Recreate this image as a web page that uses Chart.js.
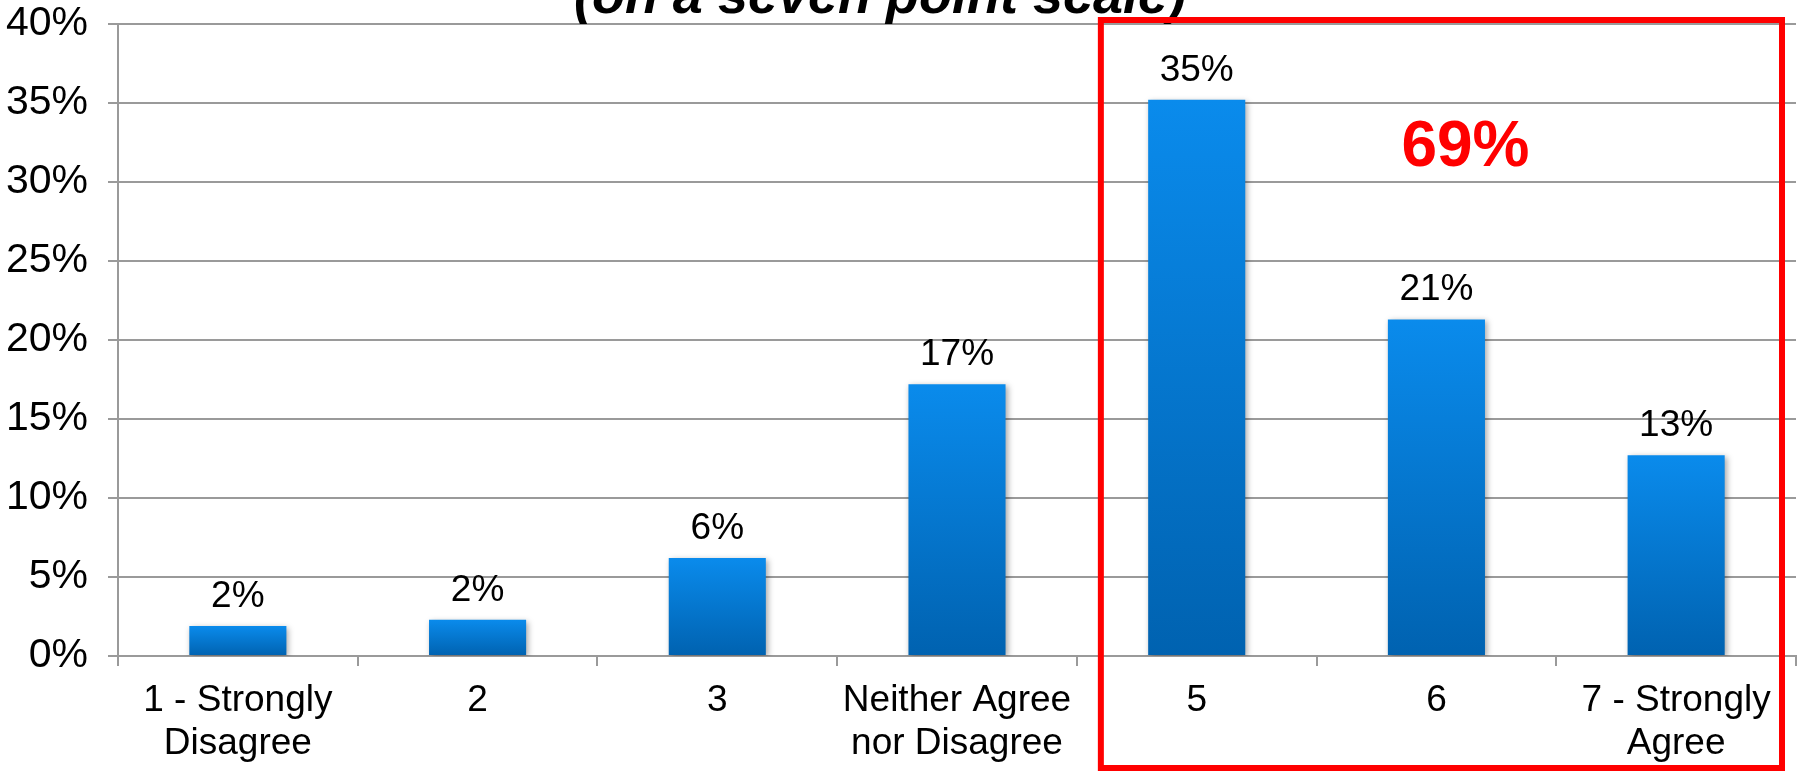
<!DOCTYPE html>
<html>
<head>
<meta charset="utf-8">
<script src="https://cdn.jsdelivr.net/npm/chart.js@4"></script>
<style>
    body { margin: 0; background: #fff; }
    #wrap { width: 1800px; height: 771px; position: relative; }
</style>
</head>
<body>
<div id="wrap"><canvas id="agreeChart"></canvas></div>
<script>
// Survey responses on a seven point scale
const categories = [
    ['1 - Strongly', 'Disagree'],
    ['2'],
    ['3'],
    ['Neither Agree', 'nor Disagree'],
    ['5'],
    ['6'],
    ['7 - Strongly', 'Agree']
];
const shares = [1.9, 2.3, 6.2, 17.2, 35.2, 21.3, 12.7];
const yTicks = [0, 5, 10, 15, 20, 25, 30, 35, 40];
const agreeGroup = [4, 5, 6]; // indexes boxed as "agree"

const FONT = '"Liberation Sans", Arial, sans-serif';
const GRID = '#9a9a9a';

function barGradient(context) {
    const chart = context.chart;
    const y = chart.scales.y;
    if (!chart.chartArea || !y || context.type !== 'data') return '#0078d4';
    const top = y.getPixelForValue(context.parsed.y);
    const bottom = y.getPixelForValue(0);
    const g = chart.ctx.createLinearGradient(0, top, 0, bottom);
    g.addColorStop(0, '#0a8bec');
    g.addColorStop(1, '#0062b0');
    return g;
}

// soft drop shadow behind the bars
const barShadow = {
    id: 'barShadow',
    beforeDatasetsDraw(chart) {
        const ctx = chart.ctx;
        ctx.save();
        ctx.shadowColor = 'rgba(0,0,0,0.35)';
        ctx.shadowBlur = 6;
        ctx.shadowOffsetX = 2;
        ctx.shadowOffsetY = 2;
    },
    afterDatasetsDraw(chart) {
        chart.ctx.restore();
    }
};

// value labels, subtitle, and the red "agree" box with its total
const overlays = {
    id: 'overlays',
    afterDraw(chart) {
        const ctx = chart.ctx;
        const x = chart.scales.x;
        const y = chart.scales.y;
        const meta = chart.getDatasetMeta(0);

        ctx.save();
        ctx.fillStyle = '#000';
        ctx.font = '37px ' + FONT;
        ctx.textAlign = 'center';
        ctx.textBaseline = 'alphabetic';
        meta.data.forEach((bar, i) => {
            ctx.fillText(Math.round(shares[i]) + '%', bar.x, bar.y - 19);
        });

        ctx.font = 'italic bold 54px ' + FONT;
        ctx.fillText('(on a seven point scale)', 880, 13);

        const step = x.getPixelForValue(1) - x.getPixelForValue(0);
        const left = x.getPixelForValue(agreeGroup[0]) - step / 2 + 24;
        const right = x.getPixelForValue(agreeGroup[agreeGroup.length - 1]) + step / 2 - 14;
        const top = y.getPixelForValue(40) - 4;
        const bottom = chart.height - 3;
        ctx.strokeStyle = '#ff0000';
        ctx.lineWidth = 6;
        ctx.strokeRect(left, top, right - left, bottom - top);

        const total = agreeGroup.reduce((s, i) => s + shares[i], 0);
        ctx.fillStyle = '#ff0000';
        ctx.font = 'bold 64px ' + FONT;
        ctx.textBaseline = 'middle';
        ctx.fillText(Math.round(total) + '%', x.getPixelForValue(5) + 29, y.getPixelForValue(32.1));
        ctx.restore();
    }
};

new Chart(document.getElementById('agreeChart').getContext('2d'), {
    type: 'bar',
    data: {
        labels: categories,
        datasets: [{
            data: shares,
            backgroundColor: barGradient,
            borderWidth: 0,
            categoryPercentage: 1,
            barPercentage: 0.405
        }]
    },
    options: {
        responsive: true,
        maintainAspectRatio: false,
        animation: false,
        layout: {
            padding: { top: 24, right: 4, left: 0, bottom: 0 }
        },
        plugins: {
            legend: { display: false },
            tooltip: { enabled: false }
        },
        scales: {
            x: {
                offset: true,
                afterFit(scale) {
                    scale.height = 115;
                    scale.paddingLeft = 0;
                    scale.paddingRight = 0;
                },
                grid: {
                    offset: true,
                    drawOnChartArea: false,
                    drawTicks: true,
                    tickLength: 10,
                    color: GRID,
                    lineWidth: 2
                },
                border: { color: GRID, width: 2 },
                ticks: {
                    color: '#000',
                    padding: 13,
                    maxRotation: 0,
                    autoSkip: false,
                    font: { family: FONT, size: 37, lineHeight: 1.17 }
                }
            },
            y: {
                min: 0,
                max: 40,
                afterFit(scale) {
                    scale.width = 118;
                    scale.paddingTop = 0;
                    scale.paddingBottom = 0;
                },
                afterBuildTicks(scale) {
                    scale.ticks = yTicks.map(v => ({ value: v }));
                },
                grid: {
                    color: GRID,
                    lineWidth: 2,
                    tickLength: 10
                },
                border: { color: GRID, width: 2 },
                ticks: {
                    color: '#000',
                    padding: 20,
                    font: { family: FONT, size: 41 },
                    callback: v => v + '%'
                }
            }
        }
    },
    plugins: [barShadow, overlays]
});
</script>
</body>
</html>
